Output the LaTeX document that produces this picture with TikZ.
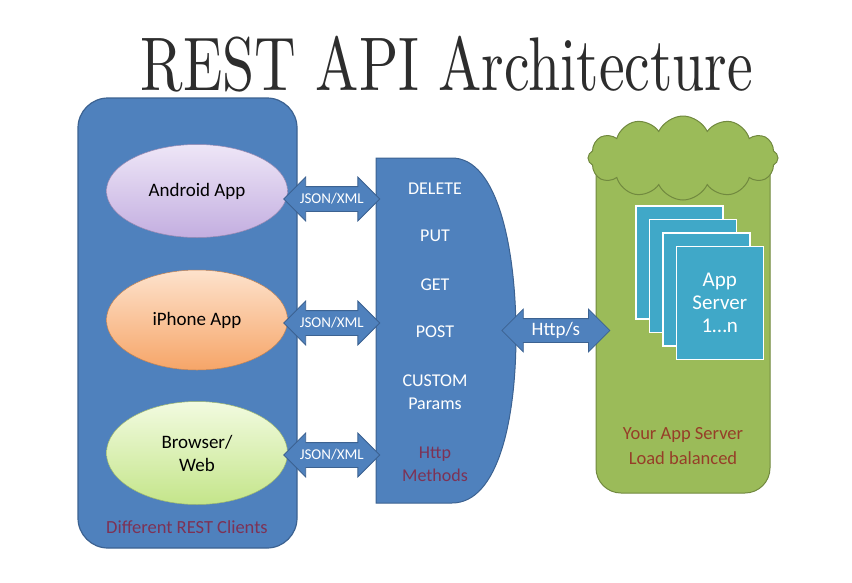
\documentclass[tikz,border=0pt]{standalone}
\usepackage{fontspec}
\setmainfont{Carlito}
\newfontfamily\headserif{lmroman10-regular.otf}
\usetikzlibrary{positioning,calc,fit,shapes.geometric,shapes.arrows,shapes.symbols}
\definecolor{panelblue}{RGB}{79,129,189}
\definecolor{edgeblue}{RGB}{60,98,145}
\definecolor{leafgreen}{RGB}{155,187,89}
\definecolor{edgegreen}{RGB}{113,137,63}
\definecolor{tealbox}{RGB}{64,168,200}
\definecolor{titlegrey}{RGB}{45,45,45}
\definecolor{plumred}{RGB}{125,50,85}
\definecolor{rustred}{RGB}{150,62,40}
\definecolor{lavtop}{RGB}{238,230,247}
\definecolor{lavbot}{RGB}{195,174,224}
\definecolor{peachtop}{RGB}{253,226,204}
\definecolor{peachbot}{RGB}{246,165,104}
\definecolor{limetop}{RGB}{242,251,224}
\definecolor{limebot}{RGB}{196,229,138}
\tikzset{
  clientpanel/.style={draw=edgeblue, fill=panelblue, line width=1.2pt, rounded corners=30pt},
  serverpanel/.style={draw=edgegreen, fill=leafgreen, line width=1pt, rounded corners=25pt},
  client/.style     ={ellipse, minimum width=181pt, align=center, line width=0.5pt,
                      font=\fontsize{19}{23}\selectfont},
  fatarrow/.style   ={double arrow, draw=edgeblue, fill=panelblue, text=white, line width=0.8pt,
                      double arrow head extend=9.5pt, inner xsep=1pt, inner ysep=5.5pt,
                      text height=11pt, text depth=2pt, font=\fontsize{15}{17}\selectfont},
  method/.style     ={text=white, align=center, font=\fontsize{18}{23}\selectfont},
  srvbox/.style     ={draw=white, line width=1.6pt, fill=tealbox, anchor=north west,
                      minimum width=87pt, minimum height=113pt},
  note/.style       ={align=center, font=\fontsize{18.5}{25}\selectfont},
}
\begin{document}
\begin{tikzpicture}[x=1pt,y=-1pt]
\useasboundingbox (0,0) rectangle (852,582);
% heading
\node[anchor=base, text=titlegrey, font=\headserif\fontsize{76}{80}\selectfont] (title)
  at (447,90) {\scalebox{0.76}[1]{REST API Architecture}};

% clients
\node[clientpanel, minimum width=219pt, minimum height=450pt] (clients) at (187.5,323) {};
\node[client, minimum height=93pt, draw=lavbot!80!black, top color=lavtop, bottom color=lavbot]
  (android) at (197,191) {Android App};
\node[client, minimum height=100pt, draw=peachbot!80!black, top color=peachtop, bottom color=peachbot]
  (iphone) at (197,320) {iPhone App};
\node[client, minimum height=103pt, draw=limebot!80!black, top color=limetop, bottom color=limebot]
  (browser) at (197,453) {Browser/\\Web};
\node[note, text=plumred] (clientslbl) at (187,527) {Different REST Clients};

% http methods
\coordinate (mnw) at (376,158);
\coordinate (mse) at (516,503);
\node[inner sep=0pt, fit=(mnw)(mse)] (methods) {};
\draw[draw=edgeblue, fill=panelblue, line width=1pt] (mnw) -- (452,158)
  .. controls (498,158) and (516,250) .. (516,335)
  .. controls (516,420) and (498,503) .. (452,503) -- (mnw |- mse) -- cycle;
\foreach \y/\t in {189/DELETE, 236/PUT, 285/GET, 332/POST}
  \node[method] (verb-\t) at (435,\y) {\t};
\node[method] (custom) at (435,392) {CUSTOM\\Params};
\node[method, text=plumred] (methodslbl) at (435,464) {Http\\Methods};

% JSON/XML links
\foreach \c/\dy in {android/-8, iphone/-3, browser/-2}
  \path (\c.east) -- (methods.west |- \c.east)
    node[midway, fatarrow, minimum height=96pt, yshift=\dy pt] (link-\c) {JSON/XML};

% app servers
\node[serverpanel, minimum width=174pt, minimum height=343pt] (server) at (683,321.5) {};
\node[cloud, cloud puffs=12, cloud puff arc=130, aspect=2.4, draw=edgegreen, fill=leafgreen,
  line width=1pt, minimum width=190pt, minimum height=84pt] (sky) at (683,158) {};
\foreach \i in {0,...,3}
  \node[srvbox] (srv\i) at ($(635,205)+(13.5*\i,13.5*\i)$) {};
\node[text=white, align=center, font=\fontsize{21}{23}\selectfont] (srvlbl) at (srv3) {App\\Server\\1…n};
\node[note, text=rustred] (serverlbl) at (683,446) {Your App Server\\Load balanced};

% Http/s link
\path (methods.east) -- (server.west |- methods.east)
  node[midway, fatarrow, minimum height=108pt, inner ysep=3pt, text height=13pt, text depth=4pt,
    double arrow head extend=9.5pt, font=\fontsize{19}{21}\selectfont] (https) {Http/s};
\end{tikzpicture}
\end{document}
